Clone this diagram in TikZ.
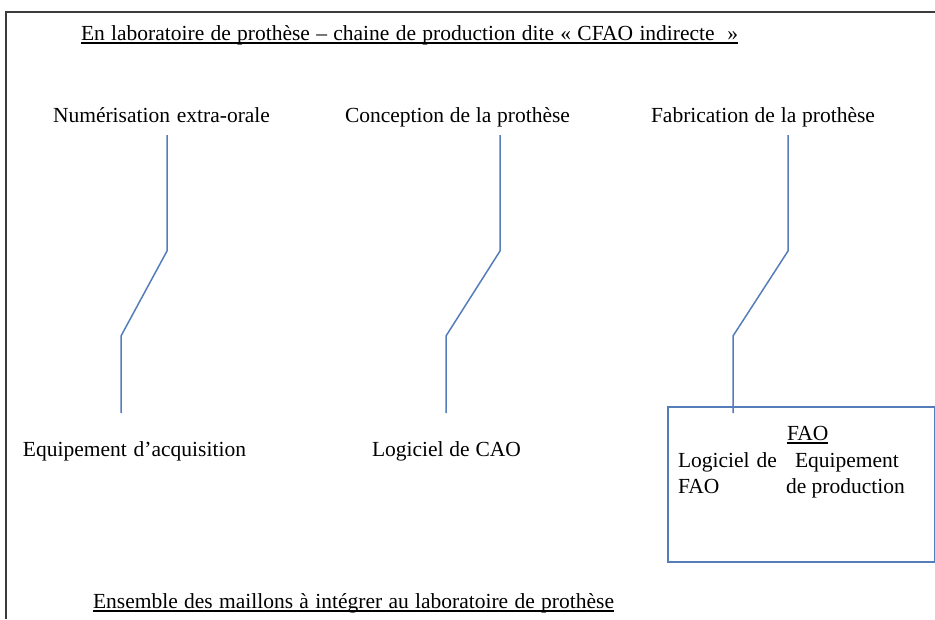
\documentclass[tikz,border=0pt]{standalone}
\usepackage{fontspec}
\setmainfont{Liberation Serif}
\definecolor{linkblue}{RGB}{84,125,185}
\definecolor{framegray}{RGB}{60,60,60}
\newcommand{\fitw}[2]{\makebox[#1][s]{#2}}
\tikzset{
  lbl/.style={anchor=base west, inner sep=0pt, outer sep=0pt, font=\fontsize{21.5}{25}\selectfont},
  link/.style={draw=linkblue, line width=1.5pt},
  uline/.style={draw=black, line width=1.1pt},
  frame/.style={draw=framegray, line width=1.2pt}
}
\begin{document}
\begin{tikzpicture}[x=1pt,y=-1pt]
\useasboundingbox (0,0) rectangle (935,619);
% outer frame (top and left edges only visible)
\coordinate (ftl) at (6,12);
\coordinate (ftr) at (935,12);
\coordinate (fbl) at (6,619);
\draw[frame] (fbl) -- (ftl) -- (ftr);

% title
\node[lbl] (title) at (81,40) {\fitw{657pt}{En laboratoire de prothèse – chaine de production dite « CFAO indirecte\ \ »}};
\draw[uline] ([yshift=-3pt]title.base west) -- ([yshift=-3pt]title.base east);

% column headers
\node[lbl] (h1) at (53,122) {\fitw{217pt}{Numérisation extra-orale}};
\node[lbl] (h2) at (345,122) {\fitw{225pt}{Conception de la prothèse}};
\node[lbl] (h3) at (651,122) {\fitw{224pt}{Fabrication de la prothèse}};

% bottom labels
\node[lbl] (b1) at (23,456) {\fitw{223pt}{Equipement d’acquisition}};
\node[lbl] (b2) at (372,456) {\fitw{149pt}{Logiciel de CAO}};

% production box
\node[draw=linkblue, line width=1.5pt, minimum width=267pt, minimum height=155pt, anchor=north west, inner sep=0pt] (fabbox) at (667,406) {};
\node[lbl] (fao) at (787,440) {FAO};
\draw[uline] ([yshift=-3pt]fao.base west) -- ([yshift=-3pt]fao.base east);
\node[lbl] (logfao) at (678,467) {\fitw{99pt}{Logiciel de}};
\node[lbl] (equip) at (795,467) {Equipement};
\node[lbl] (fao2) at (678,493) {FAO};
\node[lbl] (deprod) at (786,493) {de production};

% footer
\node[lbl] (footer) at (93,608) {\fitw{521pt}{Ensemble des maillons à intégrer au laboratoire de prothèse}};
\draw[uline] ([yshift=-3pt]footer.base west) -- ([yshift=-3pt]footer.base east);

% connectors
\coordinate (a1) at (167,135);
\coordinate (k1) at (167,251);
\coordinate (m1) at (121,336);
\coordinate (e1) at (121,413);
\draw[link] (a1) -- (k1) -- (m1) -- (e1);

\coordinate (a2) at (500,135);
\coordinate (k2) at (500,251);
\coordinate (m2) at (446,336);
\coordinate (e2) at (446,413);
\draw[link] (a2) -- (k2) -- (m2) -- (e2);

\coordinate (a3) at (788,135);
\coordinate (k3) at (788,251);
\coordinate (m3) at (733,336);
\coordinate (e3) at (733,413);
\draw[link] (a3) -- (k3) -- (m3) -- (e3);
\end{tikzpicture}
\end{document}
